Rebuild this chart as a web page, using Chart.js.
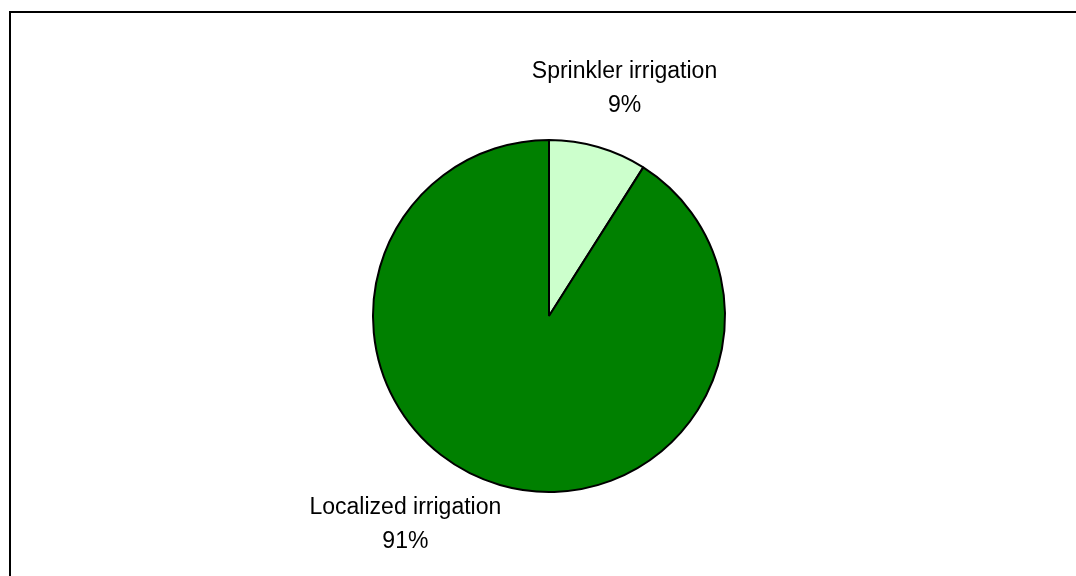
<!DOCTYPE html>
<html>
<head>
<meta charset="utf-8">
<script src="https://cdn.jsdelivr.net/npm/chart.js@4/dist/chart.umd.min.js"></script>
<style>
  html, body { margin: 0; padding: 0; background: #fff; }
  canvas { display: block; }
</style>
</head>
<body>
<canvas id="pieChart" width="1076" height="576"></canvas>
<script>
var categories = ['Sprinkler irrigation', 'Localized irrigation'];
var shares = [9, 91];
var sliceColors = ['#ccffcc', '#008000'];

// label block centre, relative to the pie centre, in units of the radius
var labelOffsets = [[0.429, -1.291], [-0.816, 1.188]];

var framePlugin = {
    id: 'frame',
    beforeDraw: function(chart) {
        var c = chart.ctx;
        c.save();
        c.fillStyle = '#fff';
        c.fillRect(0, 0, chart.width, chart.height);
        c.strokeStyle = '#000';
        c.lineWidth = 2;
        c.strokeRect(10, 12, chart.width + 20, chart.height + 20);
        c.restore();
    }
};

var labelPlugin = {
    id: 'sliceLabels',
    afterDatasetsDraw: function(chart) {
        var c = chart.ctx;
        var data = chart.data.datasets[0].data;
        var total = data.reduce(function(a, b) { return a + b; }, 0);
        var meta = chart.getDatasetMeta(0);
        c.save();
        c.font = '23px "Liberation Sans", Arial, sans-serif';
        c.fillStyle = '#000';
        c.textAlign = 'center';
        c.textBaseline = 'middle';
        meta.data.forEach(function(arc, i) {
            var r = arc.outerRadius;
            var x = arc.x + labelOffsets[i][0] * r;
            var y = arc.y + labelOffsets[i][1] * r;
            var pct = Math.round(data[i] / total * 100) + '%';
            c.fillText(chart.data.labels[i], x, y - 17);
            c.fillText(pct, x, y + 17);
        });
        c.restore();
    }
};

var ctx = document.getElementById('pieChart').getContext('2d');
var myChart = new Chart(ctx, {
    type: 'pie',
    data: {
        labels: categories,
        datasets: [{
            data: shares,
            backgroundColor: sliceColors,
            borderColor: '#000',
            borderWidth: 2
        }]
    },
    options: {
        responsive: false,
        animation: false,
        devicePixelRatio: 1,
        layout: {
            padding: { top: 139, bottom: 83, left: 372, right: 350 }
        },
        plugins: {
            legend: { display: false },
            tooltip: { enabled: false }
        }
    },
    plugins: [framePlugin, labelPlugin]
});
</script>
</body>
</html>
